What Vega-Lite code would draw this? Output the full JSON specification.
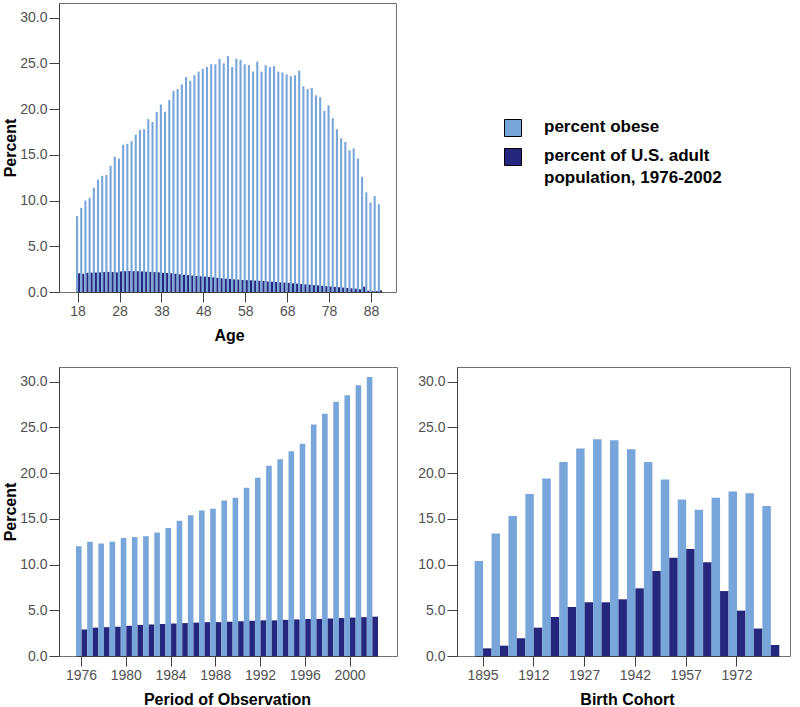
{
  "$schema": "https://vega.github.io/schema/vega-lite/v6.json",
  "padding": {"left": 2, "top": 2, "right": 5, "bottom": 5},
  "background": "white",
  "config": {
    "font": "Liberation Sans",
    "view": {"stroke": "#707070", "strokeWidth": 1},
    "axis": {
      "labelFont": "Liberation Sans", "labelFontSize": 14, "labelColor": "#505050",
      "titleFont": "Liberation Sans", "titleFontSize": 16, "titleFontWeight": "bold", "titleColor": "#000000",
      "tickSize": 10, "tickColor": "#404040", "domainColor": "#404040", "labelPadding": 2, "grid": false
    },
    "axisX": {"titlePadding": 9, "labelAngle": 0},
    "axisY": {"titlePadding": 1}
  },
  "datasets": {
    "age": [
      {"age": 18, "obese": 8.3, "pop": 2.05}, {"age": 19, "obese": 9.2, "pop": 2.0}, {"age": 20, "obese": 10.0, "pop": 2.1},
      {"age": 21, "obese": 10.3, "pop": 2.12}, {"age": 22, "obese": 11.4, "pop": 2.13}, {"age": 23, "obese": 12.3, "pop": 2.15},
      {"age": 24, "obese": 12.7, "pop": 2.18}, {"age": 25, "obese": 12.8, "pop": 2.2}, {"age": 26, "obese": 13.8, "pop": 2.18},
      {"age": 27, "obese": 14.8, "pop": 2.15}, {"age": 28, "obese": 14.6, "pop": 2.25}, {"age": 29, "obese": 16.1, "pop": 2.28},
      {"age": 30, "obese": 16.2, "pop": 2.3}, {"age": 31, "obese": 16.5, "pop": 2.28}, {"age": 32, "obese": 17.2, "pop": 2.27},
      {"age": 33, "obese": 17.7, "pop": 2.25}, {"age": 34, "obese": 17.8, "pop": 2.22}, {"age": 35, "obese": 18.9, "pop": 2.2},
      {"age": 36, "obese": 18.6, "pop": 2.18}, {"age": 37, "obese": 19.7, "pop": 2.15}, {"age": 38, "obese": 20.5, "pop": 2.1},
      {"age": 39, "obese": 19.7, "pop": 2.08}, {"age": 40, "obese": 21.0, "pop": 2.05}, {"age": 41, "obese": 22.0, "pop": 2.0},
      {"age": 42, "obese": 22.2, "pop": 1.93}, {"age": 43, "obese": 22.7, "pop": 1.88}, {"age": 44, "obese": 23.5, "pop": 1.85},
      {"age": 45, "obese": 23.1, "pop": 1.8}, {"age": 46, "obese": 23.7, "pop": 1.75}, {"age": 47, "obese": 24.1, "pop": 1.72},
      {"age": 48, "obese": 24.4, "pop": 1.68}, {"age": 49, "obese": 24.6, "pop": 1.65}, {"age": 50, "obese": 24.9, "pop": 1.6},
      {"age": 51, "obese": 24.9, "pop": 1.55}, {"age": 52, "obese": 25.5, "pop": 1.5}, {"age": 53, "obese": 25.0, "pop": 1.45},
      {"age": 54, "obese": 25.8, "pop": 1.42}, {"age": 55, "obese": 24.6, "pop": 1.38}, {"age": 56, "obese": 25.5, "pop": 1.35},
      {"age": 57, "obese": 25.4, "pop": 1.32}, {"age": 58, "obese": 24.9, "pop": 1.3}, {"age": 59, "obese": 24.8, "pop": 1.28},
      {"age": 60, "obese": 24.1, "pop": 1.25}, {"age": 61, "obese": 25.2, "pop": 1.22}, {"age": 62, "obese": 24.1, "pop": 1.2},
      {"age": 63, "obese": 24.8, "pop": 1.15}, {"age": 64, "obese": 24.6, "pop": 1.12}, {"age": 65, "obese": 24.7, "pop": 1.1},
      {"age": 66, "obese": 24.1, "pop": 1.05}, {"age": 67, "obese": 24.0, "pop": 1.02}, {"age": 68, "obese": 23.8, "pop": 1.0},
      {"age": 69, "obese": 23.6, "pop": 0.95}, {"age": 70, "obese": 23.7, "pop": 0.92}, {"age": 71, "obese": 24.2, "pop": 0.88},
      {"age": 72, "obese": 22.5, "pop": 0.83}, {"age": 73, "obese": 22.2, "pop": 0.8}, {"age": 74, "obese": 22.3, "pop": 0.75},
      {"age": 75, "obese": 21.5, "pop": 0.72}, {"age": 76, "obese": 21.3, "pop": 0.68}, {"age": 77, "obese": 19.8, "pop": 0.64},
      {"age": 78, "obese": 20.4, "pop": 0.6}, {"age": 79, "obese": 19.0, "pop": 0.56}, {"age": 80, "obese": 17.8, "pop": 0.52},
      {"age": 81, "obese": 16.8, "pop": 0.48}, {"age": 82, "obese": 16.4, "pop": 0.44}, {"age": 83, "obese": 15.5, "pop": 0.4},
      {"age": 84, "obese": 15.7, "pop": 0.36}, {"age": 85, "obese": 14.6, "pop": 0.3}, {"age": 86, "obese": 12.6, "pop": 0.58},
      {"age": 87, "obese": 10.9, "pop": 0.15}, {"age": 88, "obese": 9.8, "pop": 0.1}, {"age": 89, "obese": 10.5, "pop": 0.1},
      {"age": 90, "obese": 9.6, "pop": 0.18}
    ],
    "period": [
      {"year": 1976, "obese": 12.0, "pop": 2.9}, {"year": 1977, "obese": 12.5, "pop": 3.1}, {"year": 1978, "obese": 12.3, "pop": 3.15},
      {"year": 1979, "obese": 12.5, "pop": 3.2}, {"year": 1980, "obese": 12.9, "pop": 3.3}, {"year": 1981, "obese": 13.0, "pop": 3.4},
      {"year": 1982, "obese": 13.1, "pop": 3.45}, {"year": 1983, "obese": 13.5, "pop": 3.5}, {"year": 1984, "obese": 14.0, "pop": 3.55},
      {"year": 1985, "obese": 14.8, "pop": 3.6}, {"year": 1986, "obese": 15.4, "pop": 3.65}, {"year": 1987, "obese": 15.9, "pop": 3.7},
      {"year": 1988, "obese": 16.1, "pop": 3.7}, {"year": 1989, "obese": 17.0, "pop": 3.75}, {"year": 1990, "obese": 17.3, "pop": 3.8},
      {"year": 1991, "obese": 18.4, "pop": 3.85}, {"year": 1992, "obese": 19.5, "pop": 3.9}, {"year": 1993, "obese": 20.8, "pop": 3.9},
      {"year": 1994, "obese": 21.5, "pop": 3.95}, {"year": 1995, "obese": 22.4, "pop": 4.0}, {"year": 1996, "obese": 23.2, "pop": 4.05},
      {"year": 1997, "obese": 25.3, "pop": 4.05}, {"year": 1998, "obese": 26.5, "pop": 4.1}, {"year": 1999, "obese": 27.8, "pop": 4.15},
      {"year": 2000, "obese": 28.5, "pop": 4.2}, {"year": 2001, "obese": 29.6, "pop": 4.25}, {"year": 2002, "obese": 30.5, "pop": 4.3}
    ],
    "cohort": [
      {"cohort": 1895, "obese": 10.4, "pop": 0.84}, {"cohort": 1902, "obese": 13.4, "pop": 1.13}, {"cohort": 1907, "obese": 15.3, "pop": 1.93},
      {"cohort": 1912, "obese": 17.7, "pop": 3.1}, {"cohort": 1917, "obese": 19.4, "pop": 4.27}, {"cohort": 1922, "obese": 21.2, "pop": 5.36},
      {"cohort": 1927, "obese": 22.7, "pop": 5.87}, {"cohort": 1932, "obese": 23.7, "pop": 5.87}, {"cohort": 1937, "obese": 23.6, "pop": 6.2},
      {"cohort": 1942, "obese": 22.6, "pop": 7.4}, {"cohort": 1947, "obese": 21.2, "pop": 9.3}, {"cohort": 1952, "obese": 19.3, "pop": 10.75},
      {"cohort": 1957, "obese": 17.1, "pop": 11.7}, {"cohort": 1962, "obese": 16.0, "pop": 10.24}, {"cohort": 1967, "obese": 17.3, "pop": 7.1},
      {"cohort": 1972, "obese": 18.0, "pop": 4.96}, {"cohort": 1977, "obese": 17.8, "pop": 3.0}, {"cohort": 1982, "obese": 16.4, "pop": 1.2}
    ]
  },
  "spacing": 22,
  "resolve": {"legend": {"color": "independent"}, "scale": {"xOffset": "independent"}},
  "vconcat": [
    {
      "width": 337, "height": 289,
      "data": {"name": "age"},
      "transform": [{"fold": ["obese", "pop"], "as": ["series", "value"]}],
      "mark": {"type": "bar"},
      "encoding": {
        "x": {"field": "age", "type": "ordinal", "scale": {"paddingInner": 0, "paddingOuter": 0, "range": [17, 323]},
              "axis": {"values": [18, 28, 38, 48, 58, 68, 78, 88], "title": "Age"}},
        "xOffset": {"field": "series", "type": "nominal", "sort": ["obese", "pop"], "scale": {"paddingInner": 0, "paddingOuter": 0}},
        "y": {"field": "value", "type": "quantitative", "scale": {"domain": [0, 31.6], "nice": false},
              "axis": {"values": [0, 5, 10, 15, 20, 25, 30], "format": ".1f", "title": "Percent"}},
        "color": {"field": "series", "type": "nominal",
                  "scale": {"domain": ["obese", "pop"], "range": ["#78A6DA", "#25277C"]},
                  "legend": {
                    "orient": "none", "legendX": 445, "legendY": 116, "title": null,
                    "symbolType": "square", "symbolSize": 289, "symbolStrokeColor": "#000000", "symbolStrokeWidth": 1, "symbolOpacity": 1,
                    "labelFont": "Liberation Sans", "labelFontSize": 17, "labelFontWeight": "bold", "labelColor": "#000000",
                    "labelOffset": 22, "labelLimit": 300, "rowPadding": 7, "labelBaseline": "top",
                    "labelExpr": "datum.value == 'obese' ? 'percent obese' : ['percent of U.S. adult', 'population, 1976-2002']",
                    "encode": {
                      "labels": {"update": {"dy": {"value": -9}, "lineHeight": {"value": 22}}},
                      "symbols": {
                        "enter": {"fill": {"signal": "datum.value == 'obese' ? '#9CC9F5' : '#0A0A80'"}, "stroke": {"value": "#000000"}, "strokeWidth": {"value": 1}},
                        "update": {"fill": {"signal": "datum.value == 'obese' ? '#9CC9F5' : '#0A0A80'"}, "stroke": {"value": "#000000"}, "strokeWidth": {"value": 1}}
                      }
                    }
                  }}
      }
    },
    {
      "spacing": 19,
      "resolve": {"scale": {"xOffset": "independent"}},
      "hconcat": [
        {
          "width": 338, "height": 289,
          "data": {"name": "period"},
          "transform": [{"fold": ["obese", "pop"], "as": ["series", "value"]}],
          "mark": {"type": "bar"},
          "encoding": {
            "x": {"field": "year", "type": "ordinal", "scale": {"paddingInner": 0, "paddingOuter": 0, "range": [17, 319]},
                  "axis": {"values": [1976, 1980, 1984, 1988, 1992, 1996, 2000], "title": "Period of Observation"}},
            "xOffset": {"field": "series", "type": "nominal", "sort": ["obese", "pop"], "scale": {"paddingInner": 0, "paddingOuter": 0}},
            "y": {"field": "value", "type": "quantitative", "scale": {"domain": [0, 31.6], "nice": false},
                  "axis": {"values": [0, 5, 10, 15, 20, 25, 30], "format": ".1f", "title": "Percent"}},
            "color": {"field": "series", "type": "nominal",
                      "scale": {"domain": ["obese", "pop"], "range": ["#78A6DA", "#25277C"]}, "legend": null}
          }
        },
        {
          "width": 333, "height": 289,
          "data": {"name": "cohort"},
          "transform": [{"fold": ["obese", "pop"], "as": ["series", "value"]}],
          "mark": {"type": "bar"},
          "encoding": {
            "x": {"field": "cohort", "type": "ordinal", "scale": {"paddingInner": 0, "paddingOuter": 0, "range": [17.6, 322.3]},
                  "axis": {"values": [1895, 1912, 1927, 1942, 1957, 1972], "title": "Birth Cohort"}},
            "xOffset": {"field": "series", "type": "nominal", "sort": ["obese", "pop"], "scale": {"paddingInner": 0, "paddingOuter": 0}},
            "y": {"field": "value", "type": "quantitative", "scale": {"domain": [0, 31.6], "nice": false},
                  "axis": {"values": [0, 5, 10, 15, 20, 25, 30], "format": ".1f", "title": null}},
            "color": {"field": "series", "type": "nominal",
                      "scale": {"domain": ["obese", "pop"], "range": ["#78A6DA", "#25277C"]}, "legend": null}
          }
        }
      ]
    }
  ]
}
